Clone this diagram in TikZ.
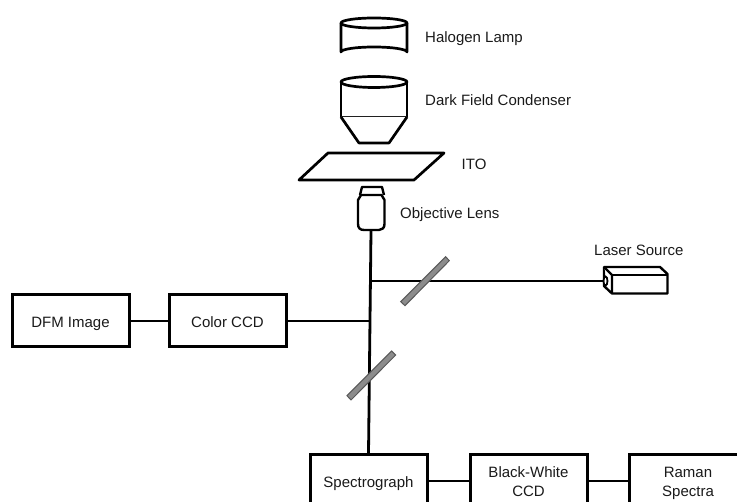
\documentclass[tikz,border=0pt]{standalone}
\usepackage{fontspec}
\setmainfont{Liberation Sans}
\definecolor{txt}{HTML}{1A1A1A}
\definecolor{mirror}{HTML}{8C8C8C}
\newcommand{\topgap}{\rule{0pt}{15pt}}
\newcommand{\botgap}{\rule[-3pt]{0pt}{1pt}}
\tikzset{
  optic/.style={draw=black,line width=2.7pt,line join=round,fill=white},
  thinoptic/.style={draw=black,line width=2.4pt,line join=round,fill=white},
  blockbox/.style={draw=black,line width=3pt,fill=white,minimum width=117pt,minimum height=52pt,inner sep=0pt,align=center,font=\fontsize{15}{19}\selectfont,text=txt},
  oneline/.style={blockbox,text height=16pt,text depth=3pt},
  label/.style={font=\fontsize{15}{18}\selectfont,text=txt,anchor=west,inner sep=0pt},
  beam/.style={draw=black,line width=2.8pt},
  mirrorplate/.style={draw=black!65,line width=1pt,fill=mirror},
}
\begin{document}
\begin{tikzpicture}[x=1pt,y=-1pt]
\useasboundingbox (0,0) rectangle (737,502);
\clip (0,0) rectangle (737,502);
\node[oneline] (dfm) at (70.5,321) {DFM Image};
\node[oneline] (color) at (227.5,321) {Color CCD};
\node[oneline] (spec) at (368.5,481) {Spectrograph};
\node[blockbox] (bw) at (528.5,481) {\topgap Black-White\\CCD\botgap};
\node[blockbox] (raman) at (688,481) {\topgap Raman\\Spectra\botgap};
\coordinate (top) at (371,231);
\coordinate (j1) at (370.6,281);
\coordinate (j2) at (370,321);
\coordinate (laserout) at (604,281);
\draw[beam] (top) -- (spec.north);
\draw[beam] (j1) -- (laserout);
\draw[beam] (color.east) -- (j2);
\draw[beam] (dfm.east) -- (color.west);
\draw[beam] (spec.east) -- (bw.west);
\draw[beam] (bw.east) -- (raman.west);
% mirrors
\draw[mirrorplate] (445.7,256.7) -- (449.3,260.7) -- (405,305.7) -- (400.7,301.7) -- cycle;
\draw[mirrorplate] (391.7,351) -- (395.7,355) -- (351,400) -- (347,395.7) -- cycle;
% lamp
\draw[optic] (341,23) -- (341,52) arc[start angle=180,end angle=360,x radius=33,y radius=5] -- (407,23);
\draw[optic] (374,23) ellipse[x radius=33,y radius=5];
% condenser
\draw[optic] (341,82) -- (341,117) -- (407,117) -- (407,82);
\draw[optic] (374,82) ellipse[x radius=33,y radius=5.5];
\draw[optic] (341,117) -- (359,143) -- (389,143) -- (407,117);
% ITO
\draw[optic] (328,153) -- (444,153) -- (414,180) -- (299,180) -- cycle;
% objective
\draw[thinoptic] (360,195) -- (362,187) -- (382,187) -- (384,195);
\draw[thinoptic] (358,200) -- (361,195) -- (381.5,195) -- (384.5,200) -- (384.5,224) .. controls (384.5,228) and (382,230) .. (379,230) -- (364,230) .. controls (360,230) and (358,228) .. (358,224) -- cycle;
% laser
\draw[thinoptic] (604,267) -- (660,267) -- (667.5,274) -- (667.5,293.5) -- (612,293.5) -- (604,286) -- cycle;
\draw[thinoptic] (604,267) -- (612,275) -- (612,293.5);
\draw[thinoptic] (612,275) -- (667.5,275);
\draw[draw=black,line width=1.8pt,fill=white] (605.5,281) ellipse[x radius=2,y radius=4.5];
% labels
\node[label] (l1) at (425,39) {Halogen Lamp};
\node[label] (l2) at (425,100) {Dark Field Condenser};
\node[label] (l3) at (461.5,164) {ITO};
\node[label] (l4) at (400,215) {Objective Lens};
\node[label] (l5) at (594,250) {Laser Source};
\end{tikzpicture}
\end{document}
